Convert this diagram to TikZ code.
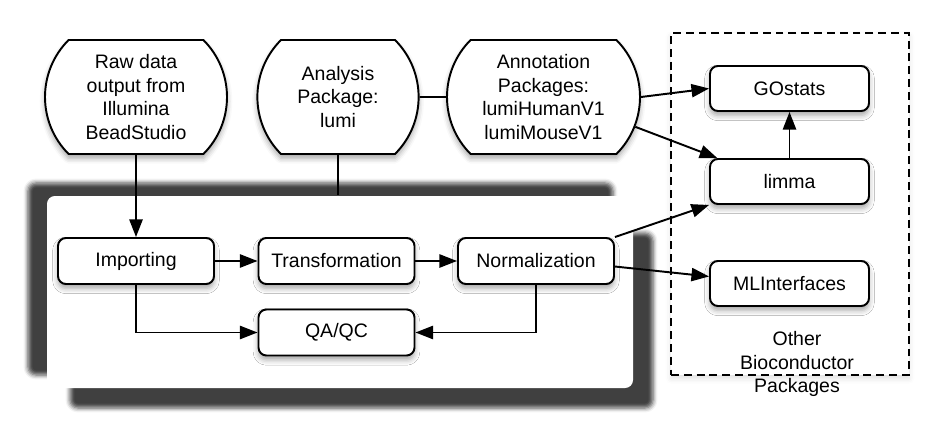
\documentclass[tikz,border=0pt]{standalone}
\usepackage{fontspec}
\setmainfont{Liberation Sans}
\usetikzlibrary{arrows.meta,positioning,shapes.misc,shadows.blur}

\tikzset{
  soft/.style={blur shadow={shadow xshift=0pt, shadow yshift=-2.5pt,
      shadow blur radius=3pt, shadow opacity=35}},
  pkg/.style={rounded rectangle, rounded rectangle arc length=90, draw,
      fill=white, align=center, inner sep=0pt, minimum height=2.28cm, soft},
  stage/.style={rectangle, rounded corners=4.5pt, draw, fill=white,
      inner sep=0pt, minimum width=3.12cm, minimum height=0.92cm, soft},
  bioc/.style={stage, minimum width=3.18cm, minimum height=0.90cm},
  panel/.style={rectangle, rounded corners=4.5pt, fill=white, inner sep=0pt,
      minimum width=11.72cm, minimum height=3.84cm},
  band/.style={blur shadow={shadow xshift=0pt, shadow yshift=0pt,
      shadow blur radius=2.5pt, shadow opacity=75}},
  groupbox/.style={rectangle, draw, fill=white, dash pattern=on 4.5pt off 2.8pt,
      inner sep=0pt, minimum width=4.76cm, minimum height=6.84cm,
      blur shadow={shadow xshift=0pt, shadow yshift=-2pt,
      shadow blur radius=3pt, shadow opacity=12}},
  note/.style={align=center, inner sep=0pt}
}

\begin{document}
\begin{tikzpicture}[>={Triangle[length=10pt,width=7.5pt,fill=black]}, line width=1.1pt,
    font=\fontsize{11.1}{13.4}\selectfont]
\useasboundingbox (0,0) rectangle (18.96,8.74);

% the lumi box and its heavy shadow
\path[band, rounded corners=4.5pt] (0.56,1.24) rectangle (12.26,5.08);
\path[band, rounded corners=4.5pt] (1.40,0.58) rectangle (13.06,4.08);
\node[panel] (panel) at (6.80,2.90) {};

% other packages
\node[groupbox] (bioc) at (15.80,4.66) {};
\node[note] (other) at (15.94,1.46) {Other\\Bioconductor\\Packages};

\node[pkg, minimum width=3.64cm] (raw) at (2.72,6.80) {Raw data\\output from\\Illumina\\BeadStudio};
\node[pkg, minimum width=3.16cm] (ana) [right of=raw, node distance=4.04cm] {Analysis\\Package:\\lumi};
\node[pkg, minimum width=3.86cm] (ann) [right of=ana, node distance=4.11cm] {Annotation\\Packages:\\lumiHumanV1\\lumiMouseV1};

\node[stage] (imp) at (2.72,3.52) {Importing};
\node[stage] (trans) [right of=imp, node distance=4.01cm] {Transformation};
\node[stage] (norm) [right of=trans, node distance=3.99cm] {Normalization};
\node[stage] (qa) [below of=trans, node distance=1.43cm] {QA/QC};

\node[bioc] (go) at (15.79,6.97) {GOstats};
\node[bioc] (limma) [below of=go, node distance=1.86cm] {limma};
\node[bioc] (mli) [below of=limma, node distance=2.04cm] {MLInterfaces};

\draw (ana) -- (ann);
\draw (ana.south) -- (ana.south |- panel.north);
\draw[->] (raw) -- (imp);
\draw[->] (imp) -- (trans);
\draw[->] (trans) -- (norm);
\draw[->] (imp.south) |- (qa.west);
\draw[->] (norm.south) |- (qa.east);
\draw[->] (ann.east) -- (go.west);
\draw[->] (ann.-18) -- (limma.162);
\draw[->] (limma) -- (go);
\draw[->] (norm.north east) -- (limma.south west);
\draw[->] (norm.-4) -- (mli.175);
\end{tikzpicture}
\end{document}
